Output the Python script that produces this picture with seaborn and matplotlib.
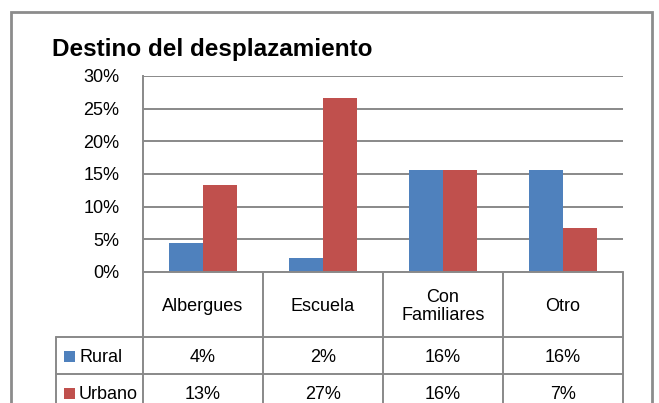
import matplotlib
matplotlib.use("Agg")
import matplotlib.pyplot as plt
import matplotlib.transforms as mtransforms
from matplotlib.patches import Rectangle
import seaborn as sns
import pandas as pd

# values (share of displaced people)
destinos = ["Albergues", "Escuela", "Con Familiares", "Otro"]
destinos_tabla = ["Albergues", "Escuela", "Con\nFamiliares", "Otro"]
rural = [4.4, 2.2, 15.6, 15.6]
urbano = [13.3, 26.7, 15.6, 6.7]
series = ["Rural", "Urbano"]
colores = ["#4F81BD", "#C0504D"]
y_ticks = [0, 5, 10, 15, 20, 25, 30]

W, H = 659, 403
GRID = "#898989"
FS = 13

sns.set_style("white")
plt.rcParams["font.family"] = ["Liberation Sans", "DejaVu Sans"]
plt.rcParams["text.color"] = "black"
plt.rcParams["ytick.labelcolor"] = "black"

df = pd.DataFrame({
    "destino": destinos * 2,
    "valor": rural + urbano,
    "zona": ["Rural"] * 4 + ["Urbano"] * 4,
})

fig = plt.figure(figsize=(W / 100, H / 100), dpi=100)
ax = fig.add_axes([143 / W, (H - 272) / H, 480 / W, 196 / H])

sns.barplot(data=df, x="destino", y="valor", hue="zona", order=destinos,
            hue_order=series, palette=colores, saturation=1, width=0.567,
            linewidth=0, ax=ax)
if ax.get_legend() is not None:
    ax.get_legend().remove()

ax.set_xlim(-0.5, 3.5)
ax.set_ylim(0, 30)
ax.set_yticks(y_ticks)
ax.set_yticklabels([f"{t}%" for t in y_ticks], fontsize=FS, color="black")
ax.set_xticks([])
ax.set_xlabel("")
ax.set_ylabel("")
ax.tick_params(axis="y", length=0, pad=17)
ax.yaxis.grid(True, color=GRID, linewidth=1.4)
ax.set_axisbelow(True)
for s in ["top", "right", "bottom"]:
    ax.spines[s].set_visible(False)
ax.spines["left"].set_color(GRID)
ax.spines["left"].set_linewidth(1.4)

# data table under the plot, x in category units, y in axes fraction
tr = mtransforms.blended_transform_factory(ax.transData, ax.transAxes)
px = 1 / 196
y_head = -65 * px
y_rows = [y_head, -102 * px, -139 * px]
x_left = -0.5 - 87 / 120
x_right = 3.5
lkw = dict(color=GRID, linewidth=1.4, transform=tr, clip_on=False)

ax.plot([-0.5, x_right], [0, 0], **lkw)
for y in y_rows:
    ax.plot([x_left, x_right], [y, y], **lkw)
for i in range(len(destinos) + 1):
    ax.plot([i - 0.5, i - 0.5], [0, y_rows[-1]], **lkw)
ax.plot([x_left, x_left], [y_head, y_rows[-1]], **lkw)

for i, lab in enumerate(destinos_tabla):
    ax.text(i, y_head / 2 - 2 * px, lab, transform=tr, ha="center",
            va="center", fontsize=FS, linespacing=1.05)

for r, vals in enumerate([rural, urbano]):
    y_mid = (y_rows[r] + y_rows[r + 1]) / 2
    for i, v in enumerate(vals):
        ax.text(i, y_mid - 2 * px, f"{v:.0f}%", transform=tr, ha="center",
                va="center", fontsize=FS)
    ax.add_patch(Rectangle((-0.5 - 79 / 120, y_mid - 6.5 * px), 11 / 120,
                           11 * px, facecolor=colores[r], edgecolor="none",
                           transform=tr, clip_on=False))
    ax.text(-0.5 - 64 / 120, y_mid - 2 * px, series[r], transform=tr,
            ha="left", va="center", fontsize=FS)

fig.text(52 / W, (H - 56) / H, "Destino del desplazamiento", fontsize=17.5,
         fontweight="bold", ha="left", va="baseline", color="black")

# outer chart frame (bottom edge is cut off in the original)
fig.patches.append(Rectangle((11 / W, -0.1), (652 - 11) / W, (H - 12) / H + 0.1,
                             fill=False, edgecolor="#8c8c8c", linewidth=2,
                             transform=fig.transFigure, figure=fig))

fig.savefig("out.png", dpi=100)
